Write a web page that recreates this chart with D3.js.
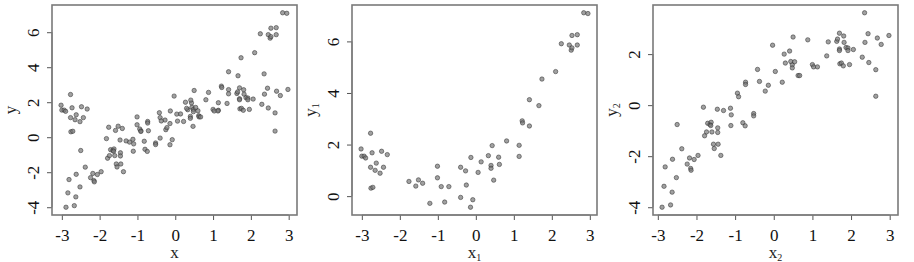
<!DOCTYPE html>
<html>
<head>
<meta charset="utf-8">
<script src="https://cdn.jsdelivr.net/npm/d3@7"></script>
<style>
  body { margin: 0; background: #fff; }
  text { font-family: "Liberation Serif", "DejaVu Serif", serif; fill: #222; }
  .tick text { font-size: 17px; fill: #111; }
</style>
</head>
<body>
<div id="chart"></div>
<script>
var width = 914;
var height = 262;

// ---------------- data ----------------
// panel 2 : x1, y1
var x1 = [-3.02,-3.0,-2.94,-2.9,-2.77,-2.73,-2.77,-2.65,-2.62,-2.76,-2.71,-2.48,-2.52,-2.43,-2.33,
  -1.76,-1.58,-1.51,-1.40,-1.21,-1.01,-1.01,-0.91,-0.82,-0.71,-0.40,-0.40,-0.27,-0.25,-0.14,
  -0.08,-0.13,0.06,0.14,0.33,0.40,0.40,0.43,0.47,0.60,0.62,0.81,1.14,1.14,1.22,
  1.23,1.41,1.41,1.66,1.74,2.10,2.25,2.46,2.53,2.51,2.53,2.67,2.67,2.84,2.95];
var y1 = [1.83,1.55,1.55,1.48,2.44,1.68,1.12,1.0,1.28,0.31,0.34,1.74,0.89,1.12,1.61,
  0.57,0.39,0.63,0.50,-0.28,1.16,0.71,0.37,-0.23,0.37,1.12,-0.05,0.98,0.43,-0.43,
  -0.14,1.50,0.92,1.33,1.57,1.19,1.08,1.96,0.62,1.51,1.23,2.14,1.97,1.54,2.92,
  2.84,3.74,2.72,3.51,4.54,4.83,5.91,5.86,6.23,5.66,5.75,6.26,5.86,7.11,7.08];

// panel 3 : x2, y2
var x2 = [-2.89,-2.84,-2.81,-2.67,-2.63,-2.62,-2.52,-2.50,-2.38,-2.24,-2.18,-2.15,-2.14,-2.06,-1.96,
  -1.82,-1.79,-1.74,-1.71,-1.65,-1.62,-1.63,-1.60,-1.56,-1.54,-1.46,-1.45,-1.45,-1.44,-1.37,
  -1.30,-1.12,-1.10,-1.11,-0.94,-0.91,-0.80,-0.74,-0.73,-0.73,-0.52,-0.52,-0.42,-0.37,-0.22,
  -0.14,-0.03,0.04,0.22,0.27,0.30,0.41,0.44,0.48,0.48,0.50,0.54,0.63,0.67,0.88,
  1.0,1.03,1.13,1.41,1.37,1.63,1.65,1.70,1.70,1.70,1.71,1.75,1.80,1.81,1.82,
  1.87,1.92,1.92,1.96,2.06,2.29,2.35,2.36,2.44,2.46,2.64,2.64,2.68,2.78,2.98];
var y2 = [-4.0,-3.18,-2.42,-3.91,-3.41,-2.12,-2.84,-0.76,-1.71,-2.31,-2.07,-2.48,-2.55,-2.13,-1.97,
  -0.08,-1.20,-1.05,-0.71,-0.76,-0.67,-0.80,-1.05,-1.53,-1.70,-0.16,-0.89,-1.07,-1.53,-1.97,
  -0.21,-0.12,-0.38,-0.80,0.47,0.33,-0.69,-0.81,0.90,0.81,-0.33,-0.42,1.40,0.93,0.55,
  0.78,2.35,1.32,0.90,2.0,1.65,2.12,1.71,1.58,1.46,2.67,1.70,1.16,1.16,2.56,
  1.59,1.50,1.50,2.48,1.93,2.50,2.59,2.82,2.20,2.14,1.62,1.65,1.54,2.71,2.46,
  2.26,2.24,2.14,1.59,2.18,1.88,3.62,2.46,2.80,1.67,1.39,0.35,2.63,2.38,2.73];

// panel 1 : all points together
var x_all = x1.concat(x2);
var y_all = y1.concat(y2);

var xTicks = [-3,-2,-1,0,1,2,3];
var yTicks1 = [-4,-2,0,2,4,6];
var yTicks2 = [0,2,4,6];
var yTicks3 = [-4,-2,0,2];

var panels = [
  {xs: x_all, ys: y_all, yt: yTicks1, xlab: ["x", ""], ylab: ["y", ""], left: 52},
  {xs: x1, ys: y1, yt: yTicks2, xlab: ["x", "1"], ylab: ["y", "1"], left: 352},
  {xs: x2, ys: y2, yt: yTicks3, xlab: ["x", "2"], ylab: ["y", "2"], left: 653}
];

var svg = d3.select("#chart").append("svg")
  .attr("width", width)
  .attr("height", height)
  .style("background", "#fff");

var pw = 245, top_y = 5, bot_y = 215;

panels.forEach(function(p){ draw_panel(p); });

// ---------------- one scatter panel ----------------
function pad(ext){
  var r = ext[1] - ext[0];
  return [ext[0] - 0.04*r, ext[1] + 0.04*r];
}

// R prints a plain hyphen, not the unicode minus of d3.format
function lab(d){ return String(d); }

function draw_panel(p){
  var g = svg.append("g").attr("transform", "translate(" + p.left + ",0)");

  var xs = d3.scaleLinear().domain(pad(d3.extent(p.xs))).range([0, pw]);
  var ys = d3.scaleLinear().domain(pad(d3.extent(p.ys))).range([bot_y, top_y]);

  // x axis (R style, axis line only between first and last tick)
  var gx = g.append("g").attr("transform", "translate(0," + bot_y + ")")
    .call(d3.axisBottom(xs).tickValues(xTicks).tickSize(5).tickPadding(9).tickFormat(lab));
  gx.select(".domain").remove();
  gx.append("line")
    .attr("x1", xs(xTicks[0])).attr("x2", xs(xTicks[xTicks.length-1]))
    .attr("stroke", "#666");
  gx.selectAll(".tick line").attr("stroke", "#555");

  // y axis, labels turned like R
  var gy = g.append("g")
    .call(d3.axisLeft(ys).tickValues(p.yt).tickSize(5).tickFormat(lab));
  gy.select(".domain").remove();
  gy.append("line")
    .attr("y1", ys(p.yt[0])).attr("y2", ys(p.yt[p.yt.length-1]))
    .attr("stroke", "#666");
  gy.selectAll(".tick line").attr("stroke", "#555");
  gy.selectAll(".tick text")
    .attr("x", null).attr("dy", null)
    .attr("text-anchor", "middle")
    .attr("transform", "translate(-13,0) rotate(-90)");

  // box
  g.append("rect")
    .attr("x", 0).attr("y", top_y)
    .attr("width", pw).attr("height", bot_y - top_y)
    .attr("fill", "none")
    .attr("stroke", "#7a7a7a")
    .attr("stroke-width", 1.6);

  // points
  g.append("g").selectAll("circle")
    .data(d3.range(p.xs.length))
    .join("circle")
    .attr("cx", function(i){ return xs(p.xs[i]); })
    .attr("cy", function(i){ return ys(p.ys[i]); })
    .attr("r", 2.2)
    .attr("fill", "rgba(120,120,120,0.7)")
    .attr("stroke", "rgba(45,45,45,0.65)")
    .attr("stroke-width", 0.8);

  // axis titles
  var tx = g.append("text")
    .attr("x", pw/2).attr("y", 258)
    .attr("text-anchor", "middle")
    .attr("font-size", 17)
    .text(p.xlab[0]);
  if (p.xlab[1]) tx.append("tspan").attr("font-size", 10).attr("dy", 3).text(p.xlab[1]);

  var ty = g.append("text")
    .attr("transform", "translate(" + (-36) + "," + ((top_y+bot_y)/2) + ") rotate(-90)")
    .attr("text-anchor", "middle")
    .attr("font-size", 17)
    .text(p.ylab[0]);
  if (p.ylab[1]) ty.append("tspan").attr("font-size", 10).attr("dy", 3).text(p.ylab[1]);
}
</script>
</body>
</html>
